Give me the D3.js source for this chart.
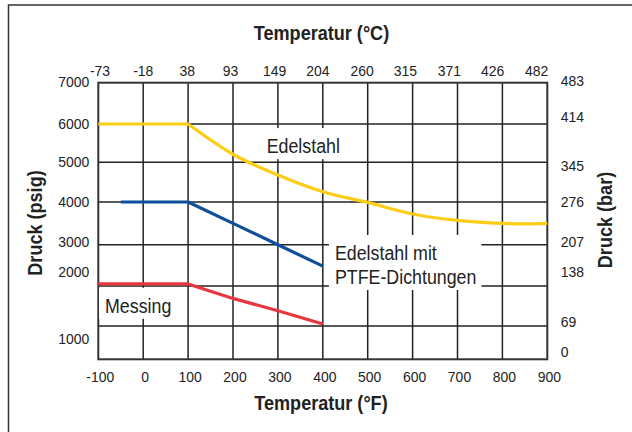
<!DOCTYPE html>
<html>
<head>
<meta charset="utf-8">
<script src="https://cdnjs.cloudflare.com/ajax/libs/d3/7.8.5/d3.min.js"></script>
<style>
    body{ margin:0; background:#fff; }
    svg text{ font-family:"Liberation Sans", Arial, sans-serif; fill:#222; }
</style>
</head>
<body>
<svg id="chart" width="632" height="432"></svg>
<script>
// Temperature ticks (bottom in °F, top in °C)
let fahrenheitTicks = [-100, 0, 100, 200, 300, 400, 500, 600, 700, 800, 900];
let celsiusTicks = [-73, -18, 38, 93, 149, 204, 260, 315, 371, 426, 482];

// Pressure ticks (left in psig, right in bar)
let psigTicks = [1000, 2000, 3000, 4000, 5000, 6000, 7000];
let psigGrid = [1000, 2000, 3000, 4000, 5000, 6000];
let barTicks = [0, 69, 138, 207, 276, 345, 414, 483];

// Series: [°F, psig]
let edelstahl = [[-100, 6000], [100, 6000], [200, 5210], [300, 4680], [400, 4260],
                 [500, 3990], [600, 3720], [700, 3570], [800, 3500], [850, 3490], [900, 3500]];
let edelstahlPtfe = [[-50, 4000], [100, 4000], [200, 3500], [300, 3000], [400, 2480]];
let messing = [[-100, 2050], [100, 2050], [200, 1690], [300, 1380], [400, 1050]];

// Labels in the plot: text lines, anchor [°F, psig]
let labels = [
    {lines: ["Edelstahl"], at: [275, 5240]},
    {lines: ["Messing"], at: [-85, 1330]},
    {lines: ["Edelstahl mit", "PTFE-Dichtungen"], at: [427, 2630]}
];

let svg = d3.select("#chart");
let plot = {left: 98.3, right: 547.3, top: 82.7, bottom: 359.3};

let x = d3.scaleLinear().domain([-100, 900]).range([plot.left, plot.right]);
let xC = d3.scaleLinear().domain([-73, 482]).range([100, 536.7]);

// the vertical spacing of the original is not quite even
let y = d3.scaleLinear()
    .domain([0, 1000, 2000, 3000, 4000, 5000, 6000, 7000])
    .range([plot.bottom, 326, 286, 244.7, 202, 162.3, 124, plot.top]);
// tick texts do not sit exactly on the grid either
let yPsiText = d3.scaleLinear()
    .domain([1000, 2000, 3000, 4000, 5000, 6000, 7000])
    .range([339, 272, 241.7, 202, 162, 124, 82]);
let yBarText = d3.scaleLinear()
    .domain(barTicks)
    .range([352, 322, 272, 242, 202, 166, 117, 81]);

/**
 * Squeezes text horizontally, the original uses a condensed face
 * @param {object} sel d3 selection of text or tspan nodes
 * @param {number} factor how much of the normal width to keep
 */
function condense(sel, factor){
    sel.each(function(){
        let w = this.getComputedTextLength();
        this.setAttribute("textLength", w * factor);
        this.setAttribute("lengthAdjust", "spacingAndGlyphs");
    });
}

// outer frame, only left and top show in the crop
svg.append("rect")
    .attr("x", 8.5).attr("y", 5)
    .attr("width", 700).attr("height", 500)
    .attr("fill", "none").attr("stroke", "#333").attr("stroke-width", 1.5);

/**
 * Draws the grid and the plot border
 */
function drawGrid(){
    let grid = svg.append("g").attr("stroke", "#222").attr("stroke-width", 1.5);

    grid.selectAll("line.v").data(fahrenheitTicks.slice(1, -1)).join("line")
        .attr("x1", d => x(d)).attr("x2", d => x(d))
        .attr("y1", plot.top).attr("y2", plot.bottom);

    grid.selectAll("line.h").data(psigGrid).join("line")
        .attr("x1", plot.left).attr("x2", plot.right)
        .attr("y1", d => y(d)).attr("y2", d => y(d));

    svg.append("rect")
        .attr("x", plot.left).attr("y", plot.top)
        .attr("width", plot.right - plot.left).attr("height", plot.bottom - plot.top)
        .attr("fill", "none").attr("stroke", "#333").attr("stroke-width", 2);
}

/**
 * Tick texts and axis titles on all four sides
 */
function drawAxes(){
    let ax = svg.append("g").attr("font-size", 15);

    ax.selectAll("text.f").data(fahrenheitTicks).join("text")
        .attr("x", d => x(d) + 2).attr("y", 381.5)
        .attr("text-anchor", "middle").text(d => d);

    ax.selectAll("text.c").data(celsiusTicks).join("text")
        .attr("x", d => xC(d)).attr("y", 76)
        .attr("text-anchor", "middle").text(d => d);

    ax.selectAll("text.p").data(psigTicks).join("text")
        .attr("x", 89.3).attr("y", d => yPsiText(d) + 5.3)
        .attr("text-anchor", "end").text(d => d);

    ax.selectAll("text.b").data(barTicks).join("text")
        .attr("x", 560.7).attr("y", d => yBarText(d) + 5.3)
        .text(d => d);

    condense(ax.selectAll("text"), 0.93);

    let titles = svg.append("g").attr("font-size", 21).attr("font-weight", "bold")
        .attr("text-anchor", "middle");
    titles.append("text").attr("x", 321.5).attr("y", 39.5).text("Temperatur (°C)");
    titles.append("text").attr("x", 321).attr("y", 409.5).text("Temperatur (°F)");
    titles.append("text").attr("transform", "translate(41.5,223) rotate(-90)").text("Druck (psig)");
    titles.append("text").attr("transform", "translate(611.5,220) rotate(-90)").text("Druck (bar)");

    condense(titles.selectAll("text"), 0.86);
}

/**
 * Text labels inside the plot, each on a white patch that cuts the grid
 */
function drawLabels(){
    let pad = {l: 6, r: 5, t: 7, b: 2};
    for(let label of labels){
        let g = svg.append("g");
        let box = g.append("rect").attr("fill", "#fff");
        let text = g.append("text").attr("font-size", 20)
            .attr("x", x(label.at[0])).attr("y", y(label.at[1]));
        label.lines.forEach((line, i) => {
            text.append("tspan")
                .attr("x", x(label.at[0])).attr("dy", i == 0 ? 0 : 24)
                .text(line);
        });
        condense(text.selectAll("tspan"), 0.89);
        let bb = text.node().getBBox();
        box.attr("x", bb.x - pad.l).attr("y", bb.y - pad.t)
            .attr("width", bb.width + pad.l + pad.r)
            .attr("height", bb.height + pad.t + pad.b);
    }
}

/**
 * Draws one rating line; curved part starts at the kink at 100 °F
 */
function drawSeries(points, colour, curved){
    let straight = d3.line().x(d => x(d[0])).y(d => y(d[1]));
    let smooth = d3.line().curve(d3.curveMonotoneX).x(d => x(d[0])).y(d => y(d[1]));
    let flat = points.filter(d => d[0] <= 100);
    let rest = points.filter(d => d[0] >= 100);

    let path = straight(flat) + (curved ? smooth(rest) : straight(rest)).replace(/^M/, "L");
    svg.append("path")
        .attr("d", path)
        .attr("fill", "none")
        .attr("stroke", colour)
        .attr("stroke-width", 3.2)
        .attr("stroke-linejoin", "round");
}

drawGrid();
drawLabels();
drawAxes();
drawSeries(edelstahl, "#fbcd14", true);
drawSeries(edelstahlPtfe, "#0d4f9c", false);
drawSeries(messing, "#e8363f", false);
</script>
</body>
</html>
